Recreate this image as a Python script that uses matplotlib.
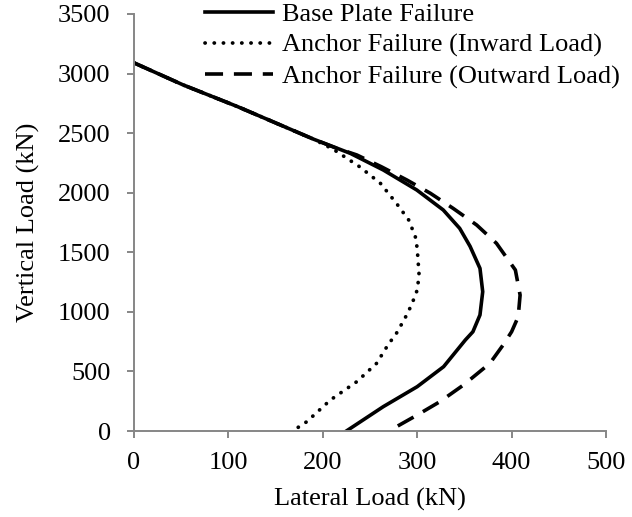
import matplotlib
matplotlib.use("Agg")
import matplotlib.pyplot as plt

plt.rcParams['font.family'] = ['Liberation Serif', 'DejaVu Serif']

# base plate failure (solid)
base_x = [0, 52, 109, 165, 190, 229, 264, 299.5, 327.6, 345, 356, 366.5, 369.4, 366.5, 359, 351, 328, 300, 264, 225]
base_y = [3090, 2905, 2725, 2535, 2450, 2331, 2191, 2023, 1855, 1701, 1550, 1365, 1169, 974, 833, 764, 540, 372, 204, 0]

# anchor failure, inward load (dotted)
inward_x = [0, 52, 109, 165, 190, 211, 239, 261, 278, 291, 298, 300, 302, 300, 294, 287, 278, 269, 257, 236, 208, 183, 168]
inward_y = [3090, 2905, 2725, 2535, 2450, 2365, 2218, 2079, 1911, 1771, 1631, 1533, 1309, 1183, 1058, 946, 820, 722, 568, 414, 260, 78, 0]

# anchor failure, outward load (dashed)
outward_x = [0, 52, 109, 165, 190, 214, 236, 262, 289, 314, 338, 363, 384, 404, 409, 407, 400, 391, 377, 349, 324, 300, 270]
outward_y = [3090, 2905, 2725, 2535, 2450, 2375, 2317, 2218, 2107, 1995, 1869, 1729, 1575, 1351, 1141, 959, 833, 722, 568, 386, 246, 134, 0]

labels = ["Base Plate Failure", "Anchor Failure (Inward Load)", "Anchor Failure (Outward Load)"]

fig = plt.figure(figsize=(6.32, 5.17), dpi=100)
ax = fig.add_axes([134 / 632, 1 - 431 / 517, 472 / 632, 417 / 517])

ax.plot(base_x, base_y, color='black', lw=2.6, label=labels[0])
ax.plot(inward_x, inward_y, color='black', lw=2.7, linestyle=(0, (0.05, 2.4)),
        dash_capstyle='round', label=labels[1])
ax.plot(outward_x, outward_y, color='black', lw=2.6, linestyle=(0, (5, 3)), label=labels[2])

ax.set_xlim(0, 500)
ax.set_ylim(0, 3500)
ax.set_xticks(range(0, 501, 100))
ax.set_yticks(range(0, 3501, 500))
ax.set_xlabel("Lateral Load (kN)", fontsize=19, labelpad=10)
ax.set_ylabel("Vertical Load (kN)", fontsize=19, labelpad=13)

for s in ['top', 'right']:
    ax.spines[s].set_visible(False)
for s in ['left', 'bottom']:
    ax.spines[s].set_color('#868686')
    ax.spines[s].set_linewidth(1.4)
ax.tick_params(axis='both', direction='out', length=4.8, width=1.4, color='#868686',
               labelsize=19)
ax.tick_params(axis='x', pad=10.5)
ax.tick_params(axis='y', pad=12)

fig.legend(loc='upper left', bbox_to_anchor=(205 / 632, 1 - 3 / 517), frameon=False,
           fontsize=19, handlelength=2.58, handletextpad=0.34, labelspacing=0.27,
           borderpad=0, borderaxespad=0)

fig.savefig("out.png", dpi=100)
